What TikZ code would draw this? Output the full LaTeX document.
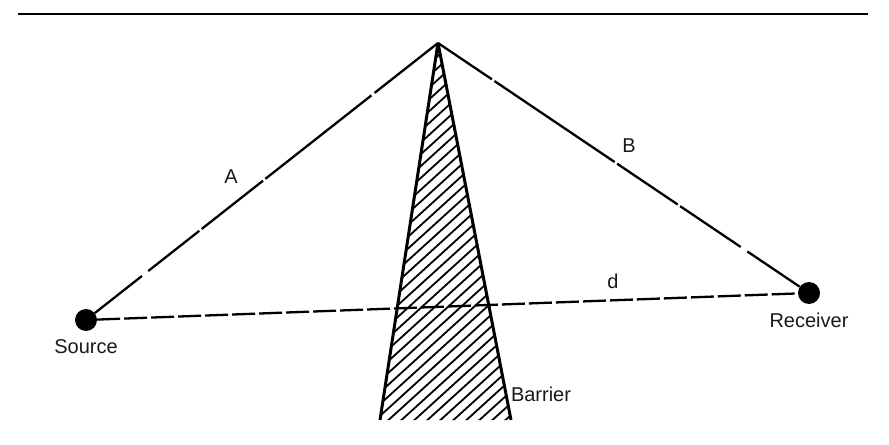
\documentclass[tikz,border=0pt]{standalone}
\usepackage{fontspec}
\setmainfont{Liberation Sans}
\tikzset{
  lbl/.style={font=\fontsize{20bp}{22bp}\selectfont, inner sep=0pt, text=black!90},
  dotn/.style={circle, fill=black, inner sep=0pt, minimum size=22bp},
  ray/.style={line width=2.3bp, black},
}
\begin{document}
\begin{tikzpicture}[x=1bp,y=-1bp]
\useasboundingbox (0,0) rectangle (889,445);
\coordinate (tl) at (18,14);
\coordinate (tr) at (868,14);
\draw[line width=2.2bp] (tl) -- (tr);
\coordinate (apex) at (438,43);
\coordinate (bl) at (380,420);
\coordinate (br) at (511,420);
\node[dotn] (src) at (86,320) {};
\node[dotn] (rcv) at (809,293) {};
\begin{scope}
\clip (apex) -- (bl) -- (br) -- cycle;
\foreach \i in {0,...,44} {
  \draw[line width=1.8bp] (-20+\i*13,425) -- ++(440,-400);
}
\end{scope}
\draw[line width=3bp, line join=bevel] (bl) -- (apex) -- (br);
\draw[ray, dash pattern=on 60bp off 8bp on 65bp off 3bp on 78bp off 3bp on 135bp off 4bp on 300bp] (src) -- (apex);
\draw[ray, dash pattern=on 65bp off 3bp on 145bp off 3bp on 73bp off 3bp on 73bp off 8bp on 200bp] (apex) -- (rcv);
\draw[line width=2.3bp, dash pattern=on 23bp off 4bp] (src) -- (rcv);
\node[lbl] (la) at (231,177) {A};
\node[lbl] (lb) at (629,146) {B};
\node[lbl] (ld) at (613,281) {d};
\node[lbl] (ls) at (86,347) {Source};
\node[lbl] (lr) at (809,320) {Receiver};
\node[lbl] (lbar) at (541,394) {Barrier};
\end{tikzpicture}
\end{document}
